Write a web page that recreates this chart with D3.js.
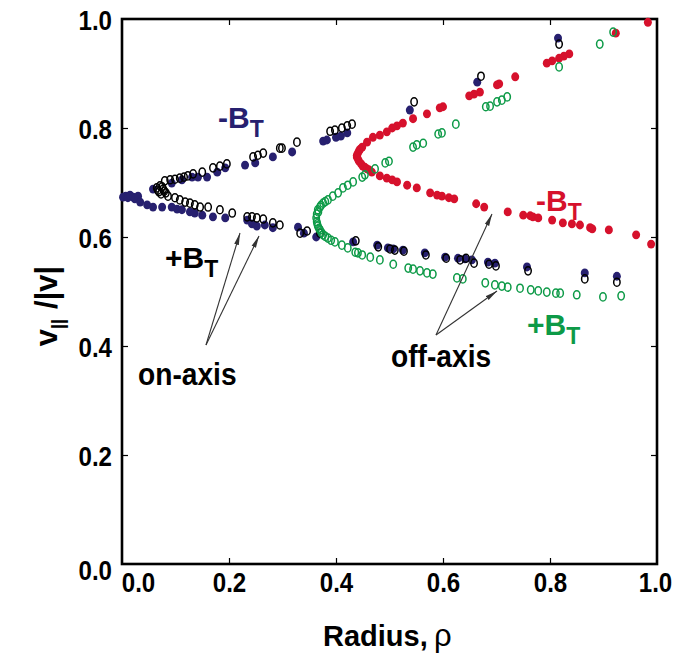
<!DOCTYPE html>
<html>
<head>
<meta charset="utf-8">
<script src="https://cdn.jsdelivr.net/npm/d3@7"></script>
<style>
  html, body { margin: 0; padding: 0; background: #fff; }
  svg { display: block; }
  text { font-family: "Liberation Sans", Arial, Helvetica, sans-serif; }
</style>
</head>
<body>
<svg id="chart" width="682" height="657"></svg>
<script>
// Axis ticks
const xTicks = [0.0, 0.2, 0.4, 0.6, 0.8, 1.0];
const yTicks = [0.0, 0.2, 0.4, 0.6, 0.8, 1.0];

// On-axis orbits, -B_T (filled navy)
const onAxisMinusBT = [
  [0.002,0.673],[0.007,0.675],[0.011,0.672],[0.015,0.677],[0.021,0.673],[0.024,0.670],[0.030,0.675],
  [0.058,0.688],[0.093,0.699],[0.112,0.705],[0.131,0.710],[0.142,0.710],[0.159,0.710],[0.178,0.719],
  [0.193,0.727],[0.230,0.732],[0.249,0.736],[0.282,0.747],[0.318,0.756],[0.376,0.776],[0.383,0.778],
  [0.400,0.783],[0.409,0.785],[0.421,0.791],[0.538,0.833],[0.664,0.884],[0.815,0.965],
  [0.034,0.664],[0.047,0.659],[0.058,0.655],[0.075,0.655],[0.093,0.655],[0.103,0.651],[0.112,0.650],
  [0.127,0.646],[0.136,0.644],[0.150,0.640],[0.170,0.637],[0.193,0.635],[0.234,0.631],[0.243,0.624],
  [0.252,0.620],[0.267,0.622],[0.282,0.617],[0.329,0.618],[0.340,0.607],[0.363,0.600],[0.432,0.591],
  [0.477,0.585],[0.497,0.580],[0.507,0.578],[0.525,0.576],[0.566,0.571],[0.604,0.563],[0.628,0.561],
  [0.641,0.560],[0.654,0.558],[0.684,0.554],[0.697,0.552],[0.757,0.545],[0.865,0.534],[0.925,0.528]
];

// On-axis orbits, +B_T (open black)
const onAxisPlusBT = [
  [0.065,0.690],[0.067,0.686],[0.069,0.683],[0.071,0.694],[0.073,0.679],[0.077,0.688],[0.079,0.684],
  [0.075,0.692],[0.082,0.681],
  [0.080,0.703],[0.090,0.705],[0.099,0.706],[0.108,0.708],[0.116,0.710],[0.123,0.712],[0.133,0.716],
  [0.150,0.719],[0.170,0.727],[0.183,0.730],[0.196,0.734],[0.245,0.747],[0.254,0.750],[0.264,0.754],
  [0.295,0.763],[0.299,0.763],[0.327,0.774],[0.389,0.794],[0.398,0.796],[0.411,0.800],[0.421,0.804],
  [0.430,0.807],[0.546,0.848],[0.671,0.895],[0.817,0.954],
  [0.086,0.675],[0.099,0.672],[0.108,0.668],[0.118,0.664],[0.127,0.662],[0.136,0.659],[0.146,0.655],
  [0.161,0.655],[0.183,0.650],[0.206,0.644],[0.234,0.637],[0.243,0.637],[0.252,0.635],[0.264,0.633],
  [0.282,0.626],[0.295,0.622],[0.333,0.607],[0.346,0.611],[0.370,0.607],[0.437,0.593],[0.479,0.582],
  [0.501,0.578],[0.510,0.576],[0.527,0.574],[0.568,0.567],[0.606,0.561],[0.632,0.558],[0.643,0.561],
  [0.658,0.552],[0.686,0.550],[0.699,0.547],[0.759,0.538],[0.865,0.523],[0.925,0.517]
];

// Off-axis orbits, -B_T (filled red)
const offAxisMinusBT = [
  [0.983,0.994],[0.923,0.974],[0.836,0.936],[0.826,0.932],[0.817,0.928],[0.804,0.923],[0.794,0.919],
  [0.735,0.894],[0.705,0.881],[0.701,0.879],[0.669,0.866],[0.658,0.862],[0.649,0.859],[0.600,0.839],
  [0.594,0.837],[0.570,0.826],[0.544,0.817],[0.525,0.809],[0.514,0.804],[0.505,0.800],[0.495,0.793],
  [0.482,0.787],[0.469,0.783],[0.458,0.774],[0.449,0.765],[0.445,0.761],[0.443,0.758],[0.441,0.754],
  [0.439,0.750],[0.439,0.747],[0.441,0.743],[0.443,0.739],[0.447,0.734],[0.450,0.730],[0.454,0.728],
  [0.458,0.725],[0.462,0.723],[0.467,0.719],[0.482,0.712],[0.495,0.708],[0.505,0.705],[0.514,0.701],
  [0.533,0.695],[0.551,0.690],[0.576,0.681],[0.589,0.677],[0.598,0.675],[0.611,0.672],[0.621,0.670],
  [0.662,0.661],[0.677,0.655],[0.721,0.646],[0.750,0.640],[0.763,0.639],[0.768,0.637],[0.778,0.635],
  [0.804,0.631],[0.824,0.626],[0.841,0.624],[0.856,0.622],[0.875,0.617],[0.879,0.615],[0.910,0.613],
  [0.961,0.604],[0.989,0.587]
];

// Off-axis orbits, +B_T (open green)
const offAxisPlusBT = [
  [0.918,0.976],[0.893,0.954],[0.817,0.912],[0.720,0.857],[0.710,0.851],[0.701,0.848],[0.688,0.840],
  [0.680,0.839],[0.624,0.807],[0.598,0.791],[0.591,0.789],[0.563,0.772],[0.551,0.769],[0.544,0.765],
  [0.499,0.739],[0.492,0.736],[0.473,0.725],[0.454,0.714],[0.449,0.710],[0.432,0.701],[0.422,0.695],
  [0.413,0.690],[0.404,0.681],[0.394,0.675],[0.385,0.668],[0.380,0.665],[0.376,0.662],[0.372,0.658],
  [0.370,0.655],[0.367,0.646],[0.366,0.650],[0.364,0.642],[0.363,0.635],[0.364,0.628],[0.365,0.624],
  [0.366,0.620],[0.368,0.616],[0.370,0.613],[0.373,0.608],[0.376,0.604],[0.380,0.601],[0.385,0.598],
  [0.391,0.594],[0.398,0.591],[0.411,0.585],[0.422,0.580],[0.436,0.572],[0.441,0.571],[0.449,0.567],
  [0.464,0.563],[0.482,0.558],[0.507,0.550],[0.535,0.543],[0.544,0.541],[0.557,0.538],[0.570,0.534],
  [0.581,0.532],[0.626,0.525],[0.637,0.523],[0.679,0.516],[0.697,0.512],[0.710,0.510],[0.721,0.508],
  [0.744,0.506],[0.764,0.503],[0.778,0.501],[0.794,0.499],[0.811,0.497],[0.819,0.497],[0.850,0.494],
  [0.899,0.490],[0.933,0.492]
];

const NAVY = "#27206f", RED = "#d6112c", GREEN = "#0d9a47", BLACK = "#000";

const svg = d3.select("#chart");
const mLeft = 122, mRight = 657, mTop = 19, mBottom = 564;
const x = d3.scaleLinear().domain([0, 1]).range([mLeft, mRight]);
const y = d3.scaleLinear().domain([0, 1]).range([mBottom, mTop]);

// Narrow the glyphs of a text element horizontally (condensed bold look)
function condense(sel, factor) {
  sel.each(function () {
    const w = this.getComputedTextLength();
    d3.select(this).attr("textLength", w * factor).attr("lengthAdjust", "spacingAndGlyphs");
  });
}

// Frame and inward ticks on all four sides
const tickFont = "bold 28px 'Liberation Sans', Arial, sans-serif";
const inner = [0.2, 0.4, 0.6, 0.8];

const gx = svg.append("g").attr("transform", `translate(0,${mBottom})`)
  .call(d3.axisBottom(x).tickValues(xTicks).tickSize(-6).tickPadding(8).tickFormat(d3.format(".1f")));
const gy = svg.append("g").attr("transform", `translate(${mLeft},0)`)
  .call(d3.axisLeft(y).tickValues(yTicks).tickSize(-6).tickPadding(10).tickFormat(d3.format(".1f")));
const gt = svg.append("g").attr("transform", `translate(0,${mTop})`)
  .call(d3.axisTop(x).tickValues(inner).tickSize(-6).tickFormat(""));
const gr = svg.append("g").attr("transform", `translate(${mRight},0)`)
  .call(d3.axisRight(y).tickValues(inner).tickSize(-6).tickFormat(""));

[gx, gy, gt, gr].forEach(g => {
  g.select(".domain").remove();
  g.selectAll(".tick line").attr("stroke", "#000").attr("stroke-width", 1.2);
  g.selectAll(".tick text").style("font", tickFont).attr("fill", "#000");
});
// end ticks sit on the frame itself
gx.selectAll(".tick").filter(d => d === 0 || d === 1).select("line").remove();
gy.selectAll(".tick").filter(d => d === 0 || d === 1).select("line").remove();
// the 0.0 label on the x axis is nudged right, clear of the y-axis 0.0
gx.selectAll(".tick text").attr("dx", d => d === 0 ? 16 : d === 1 ? -2 : 0);
gy.selectAll(".tick text").attr("dy", d => d === 0 ? "0.55em" : "0.36em");
condense(gx.selectAll(".tick text"), 0.86);
condense(gy.selectAll(".tick text"), 0.86);

svg.append("rect")
  .attr("x", mLeft).attr("y", mTop)
  .attr("width", mRight - mLeft).attr("height", mBottom - mTop)
  .attr("fill", "none").attr("stroke", "#000").attr("stroke-width", 2.6);

// Markers
const plot = svg.append("g");
function filled(data, color) {
  plot.append("g").selectAll("ellipse").data(data).join("ellipse")
    .attr("cx", d => x(d[0])).attr("cy", d => y(d[1]))
    .attr("rx", 4.0).attr("ry", 4.4)
    .attr("fill", color);
}
function open(data, color) {
  plot.append("g").selectAll("ellipse").data(data).join("ellipse")
    .attr("cx", d => x(d[0])).attr("cy", d => y(d[1]))
    .attr("rx", 3.2).attr("ry", 4.1)
    .attr("fill", "none").attr("stroke", color).attr("stroke-width", 1.5);
}
filled(onAxisMinusBT, NAVY);
open(onAxisPlusBT, BLACK);
filled(offAxisMinusBT, RED);
open(offAxisPlusBT, GREEN);

// B_T labels
function bLabel(px, py, sign, color) {
  const t = svg.append("text").attr("x", px).attr("y", py)
    .attr("fill", color).style("font-weight", "bold").style("font-size", "30px");
  t.append("tspan").text(sign + "B");
  t.append("tspan").attr("dy", 9).style("font-size", "23px").text("T");
}
bLabel(218, 128, "-", NAVY);
bLabel(165, 268, "+", BLACK);
bLabel(536, 211, "-", RED);
bLabel(527, 335, "+", GREEN);

// Pointer arrows
const defs = svg.append("defs");
defs.append("marker").attr("id", "head")
  .attr("viewBox", "0 0 12 6").attr("refX", 12).attr("refY", 3)
  .attr("markerWidth", 12).attr("markerHeight", 6).attr("markerUnits", "userSpaceOnUse")
  .attr("orient", "auto")
  .append("path").attr("d", "M0,0.6 L12,3 L0,5.4 Z").attr("fill", "#333");

const arrows = [
  [[206, 345], [240, 233]],
  [[206, 345], [259, 236]],
  [[436, 335], [492, 214]],
  [[436, 335], [497, 291]]
];
svg.append("g").selectAll("line").data(arrows).join("line")
  .attr("x1", d => d[0][0]).attr("y1", d => d[0][1])
  .attr("x2", d => d[1][0]).attr("y2", d => d[1][1])
  .attr("stroke", "#333").attr("stroke-width", 1.1)
  .attr("marker-end", "url(#head)");

const onLbl = svg.append("text").attr("x", 138).attr("y", 385)
  .style("font-weight", "bold").style("font-size", "32px").text("on-axis");
const offLbl = svg.append("text").attr("x", 391).attr("y", 367)
  .style("font-weight", "bold").style("font-size", "32px").text("off-axis");
condense(onLbl, 0.88);
condense(offLbl, 0.88);

// Axis titles
svg.append("text").attr("x", 323).attr("y", 646)
  .style("font-size", "29px").style("font-weight", "bold").text("Radius,");
svg.append("text").attr("x", 434).attr("y", 646)
  .style("font-size", "31px").style("font-weight", "normal").text("ρ");

const yt = svg.append("text").attr("transform", "translate(57,306) rotate(-90)")
  .attr("text-anchor", "middle").style("font-size", "31px").style("font-weight", "bold");
yt.append("tspan").text("v");
yt.append("tspan").attr("dy", 7).style("font-size", "18px").text("||");
yt.append("tspan").attr("dy", -7).attr("dx", 10).text("/|v|");
</script>
</body>
</html>
